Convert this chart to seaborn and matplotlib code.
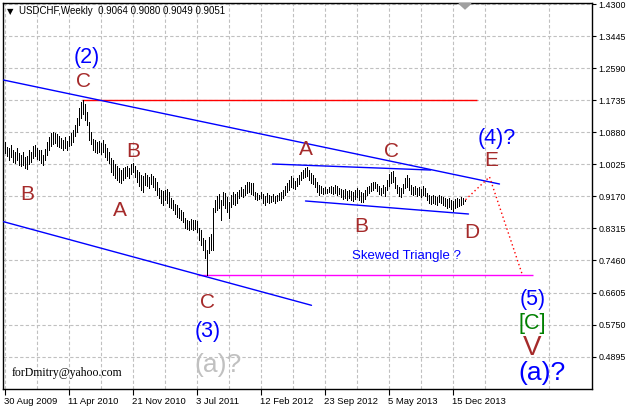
import numpy as np
import pandas as pd
import matplotlib
matplotlib.use("Agg")
import matplotlib.pyplot as plt
import seaborn as sns

# ---------------- data (weekly USDCHF bars) ----------------
highs = [
    1.062, 1.049, 1.046, 1.054, 1.041, 1.035, 1.046, 1.033, 1.027, 1.035,
    1.022, 1.025, 1.041, 1.035, 1.051, 1.054, 1.046, 1.041, 1.041, 1.027,
    1.043, 1.062, 1.075, 1.086, 1.089, 1.086, 1.083, 1.078, 1.073, 1.067,
    1.075, 1.065, 1.078, 1.086, 1.094, 1.107, 1.126, 1.153, 1.169, 1.173,
    1.163, 1.142, 1.115, 1.089, 1.070, 1.067, 1.062, 1.065, 1.059, 1.067,
    1.057, 1.046, 1.035, 1.019, 1.014, 1.003, 0.998, 0.993, 0.987, 0.993,
    0.995, 0.998, 0.993, 1.003, 1.006, 0.998, 0.987, 0.982, 0.974, 0.971,
    0.979, 0.974, 0.969, 0.977, 0.971, 0.966, 0.955, 0.939, 0.934, 0.931,
    0.934, 0.937, 0.929, 0.913, 0.907, 0.897, 0.894, 0.886, 0.881, 0.875,
    0.859, 0.854, 0.851, 0.857, 0.854, 0.854, 0.851, 0.833, 0.827, 0.806,
    0.801, 0.774, 0.809, 0.817, 0.886, 0.907, 0.918, 0.923, 0.907, 0.929,
    0.926, 0.915, 0.902, 0.921, 0.929, 0.923, 0.929, 0.934, 0.942, 0.937,
    0.947, 0.955, 0.955, 0.953, 0.953, 0.929, 0.926, 0.921, 0.929, 0.923,
    0.918, 0.926, 0.921, 0.918, 0.923, 0.918, 0.921, 0.926, 0.929, 0.934,
    0.945, 0.953, 0.961, 0.971, 0.966, 0.958, 0.966, 0.974, 0.982, 0.987,
    0.993, 0.995, 0.987, 0.979, 0.974, 0.966, 0.955, 0.947, 0.945, 0.939,
    0.942, 0.937, 0.942, 0.945, 0.942, 0.947, 0.945, 0.939, 0.937, 0.934,
    0.937, 0.931, 0.934, 0.931, 0.929, 0.934, 0.939, 0.934, 0.929, 0.926,
    0.934, 0.942, 0.945, 0.953, 0.955, 0.955, 0.950, 0.945, 0.939, 0.947,
    0.942, 0.961, 0.977, 0.982, 0.985, 0.969, 0.947, 0.942, 0.939, 0.950,
    0.966, 0.974, 0.966, 0.947, 0.942, 0.945, 0.939, 0.942, 0.937, 0.945,
    0.939, 0.926, 0.921, 0.918, 0.921, 0.918, 0.915, 0.921, 0.918, 0.915,
    0.913, 0.910, 0.913, 0.907, 0.905, 0.910, 0.913, 0.910, 0.915, 0.913,
    0.908,
]
lows = [
    1.033, 1.025, 1.014, 1.022, 1.009, 1.006, 1.014, 1.001, 0.998, 1.001,
    0.993, 0.990, 1.003, 1.009, 1.019, 1.025, 1.017, 1.014, 1.006, 1.001,
    1.014, 1.027, 1.041, 1.051, 1.057, 1.059, 1.051, 1.049, 1.046, 1.041,
    1.046, 1.041, 1.051, 1.054, 1.062, 1.078, 1.089, 1.107, 1.126, 1.137,
    1.121, 1.107, 1.067, 1.057, 1.041, 1.035, 1.033, 1.035, 1.030, 1.035,
    1.022, 1.014, 1.006, 0.982, 0.974, 0.966, 0.961, 0.955, 0.953, 0.961,
    0.966, 0.971, 0.966, 0.977, 0.982, 0.969, 0.955, 0.945, 0.934, 0.929,
    0.947, 0.945, 0.939, 0.950, 0.942, 0.934, 0.921, 0.913, 0.899, 0.894,
    0.907, 0.899, 0.889, 0.886, 0.881, 0.870, 0.862, 0.859, 0.854, 0.849,
    0.833, 0.830, 0.827, 0.830, 0.827, 0.830, 0.822, 0.801, 0.787, 0.774,
    0.753, 0.7067, 0.766, 0.774, 0.774, 0.875, 0.881, 0.886, 0.854, 0.894,
    0.886, 0.875, 0.859, 0.889, 0.897, 0.894, 0.899, 0.913, 0.918, 0.915,
    0.921, 0.926, 0.929, 0.923, 0.921, 0.910, 0.907, 0.910, 0.913, 0.899,
    0.894, 0.902, 0.899, 0.902, 0.905, 0.899, 0.905, 0.907, 0.907, 0.913,
    0.921, 0.929, 0.934, 0.942, 0.939, 0.937, 0.945, 0.950, 0.961, 0.966,
    0.969, 0.971, 0.961, 0.953, 0.950, 0.942, 0.929, 0.921, 0.926, 0.923,
    0.926, 0.926, 0.929, 0.926, 0.923, 0.926, 0.921, 0.923, 0.915, 0.910,
    0.913, 0.907, 0.913, 0.907, 0.905, 0.910, 0.915, 0.907, 0.902, 0.902,
    0.910, 0.921, 0.926, 0.931, 0.934, 0.939, 0.931, 0.923, 0.921, 0.926,
    0.918, 0.934, 0.945, 0.953, 0.955, 0.939, 0.926, 0.918, 0.915, 0.926,
    0.939, 0.942, 0.934, 0.923, 0.921, 0.923, 0.918, 0.921, 0.915, 0.921,
    0.918, 0.907, 0.899, 0.897, 0.899, 0.897, 0.894, 0.902, 0.899, 0.894,
    0.891, 0.886, 0.889, 0.883, 0.878, 0.886, 0.889, 0.891, 0.894, 0.897,
    0.905,
]
date_labels = ["30 Aug 2009", "11 Apr 2010", "21 Nov 2010", "3 Jul 2011",
               "12 Feb 2012", "23 Sep 2012", "5 May 2013", "15 Dec 2013"]
price_ticks = [1.4300, 1.3445, 1.2590, 1.1735, 1.0880, 1.0025, 0.9170,
               0.8315, 0.7460, 0.6605, 0.5750, 0.4895]
header = "USDCHF,Weekly  0.9064 0.9080 0.9049 0.9051"

# trend lines (bar index, price)
upper_channel_x = [-0.5, 247.5]
upper_channel_y = [1.2273, 0.9500]
lower_channel_x = [-0.5, 153.5]
lower_channel_y = [0.8495, 0.6265]
tri_top_x = [134, 213]
tri_top_y = [1.0033, 0.9873]
tri_bot_x = [150.5, 232]
tri_bot_y = [0.9047, 0.8700]
proj_x = [230.5, 242.5, 259]
proj_y = [0.9080, 0.969, 0.7067]

# ---------------- figure ----------------
sns.set_theme(style="white")
plt.rcParams["font.family"] = ["Liberation Sans", "DejaVu Sans"]

W, H = 627, 407
fig = plt.figure(figsize=(W / 100, H / 100), dpi=100)
fig.patch.set_facecolor("white")
ax = fig.add_axes([3 / W, 1 - 389 / H, 589 / W, 386 / H])
ax.set_facecolor("white")

idx = np.arange(len(highs))
df = pd.DataFrame({"i": idx, "high": highs, "low": lows})

# grid
ax.set_xlim(-0.75, 293.75)
ax.set_ylim(0.4033, 1.4327)
ax.set_xticks(np.arange(0, 225, 32))
ax.set_xticks(np.arange(16, 290, 32), minor=True)
ax.set_xticklabels(date_labels)
ax.set_yticks(price_ticks)
ax.set_yticklabels([f"{v:.4f}" for v in price_ticks])
ax.grid(True, which="both", axis="x", color="#C0C0C0", linestyle=(0, (3, 2)), linewidth=0.8)
ax.grid(True, which="major", axis="y", color="#C0C0C0", linestyle=(0, (3, 2)), linewidth=0.8)
ax.set_axisbelow(True)

# bars
ax.vlines(df["i"], df["low"], df["high"], color="black", linewidth=0.72,
          antialiased=False, zorder=3)

# horizontal levels
ax.hlines(max(highs), 38.5, 236, color="#FF0000", linewidth=1.0, zorder=2)
ax.hlines(min(lows), 96.5, 264, color="#FF00FF", linewidth=1.0, zorder=2)

# trend lines
for xs, ys in [(upper_channel_x, upper_channel_y), (lower_channel_x, lower_channel_y),
               (tri_top_x, tri_top_y), (tri_bot_x, tri_bot_y)]:
    sns.lineplot(x=xs, y=ys, ax=ax, color="#0000FF", linewidth=1.0, estimator=None,
                 sort=False, zorder=4)
ax.plot(proj_x, proj_y, color="#FF0000", linewidth=1.0, linestyle=(0, (1, 2)), zorder=4)

# wave labels
brown = "#A52A2A"
blue = "#0000FF"
labels = [
    ("(2)", 41, 1.2727, blue, 15.5),
    ("C", 39.5, 1.2087, brown, 15),
    ("B", 11.5, 0.9073, brown, 15),
    ("B", 64.5, 1.0220, brown, 15),
    ("A", 57.5, 0.8647, brown, 15),
    ("C", 101.5, 0.6193, brown, 15),
    ("(3)", 101.5, 0.5420, blue, 15.5),
    ("(a)?", 106.5, 0.4487, "#C0C0C0", 19),
    ("A", 150.5, 1.0273, brown, 15),
    ("C", 193.5, 1.0220, brown, 15),
    ("B", 178.5, 0.8220, brown, 15),
    ("D", 233.5, 0.8060, brown, 15),
    ("E", 243.5, 0.9980, brown, 15),
    ("(4)?", 246, 1.0567, blue, 15.5),
    ("(5)", 264, 0.6273, blue, 15.5),
    ("[C]", 264, 0.5633, "#008000", 15.5),
    ("V", 264, 0.4940, brown, 20),
    ("(a)?", 268.75, 0.4273, blue, 19),
]
for txt, x, y, c, fs in labels:
    ax.text(x, y, txt, color=c, fontsize=fs, ha="center", va="baseline", zorder=5)
ax.text(201, 0.7500, "Skewed Triangle ?", color=blue, fontsize=9.5, ha="center",
        va="baseline", zorder=5)
ax.text(3.5, 0.4380, "forDmitry@yahoo.com", color="black", fontsize=8.5,
        family="Liberation Serif", ha="left", va="baseline", zorder=5)

# shift marker at top
ax.fill([227.25, 233.25, 230.25], [1.4315, 1.4315, 1.4170], color="#A0A0A0",
        zorder=6, clip_on=False)

# axes styling
for s in ax.spines.values():
    s.set_color("black")
    s.set_linewidth(1.0)
    s.set_visible(True)
ax.yaxis.tick_right()
ax.tick_params(axis="y", which="major", direction="out", length=3, width=0.8,
               colors="black", labelsize=6.4, pad=1.5, right=True, left=False)
ax.tick_params(axis="x", which="major", direction="out", length=4, width=0.8,
               colors="black", labelsize=6.8, pad=2, bottom=True)
ax.tick_params(axis="x", which="minor", length=0)
for lab in ax.get_xticklabels():
    lab.set_ha("left")
ax.set_xlabel("")
ax.set_ylabel("")

# header
fig.text(7 / W, 1 - 14 / H, "\u25BC", fontsize=6, family="DejaVu Sans", color="black",
         va="baseline", ha="left")
fig.text(19 / W, 1 - 14 / H, header, fontsize=7, color="black", va="baseline", ha="left")

fig.savefig("out.png", dpi=100, facecolor="white")
